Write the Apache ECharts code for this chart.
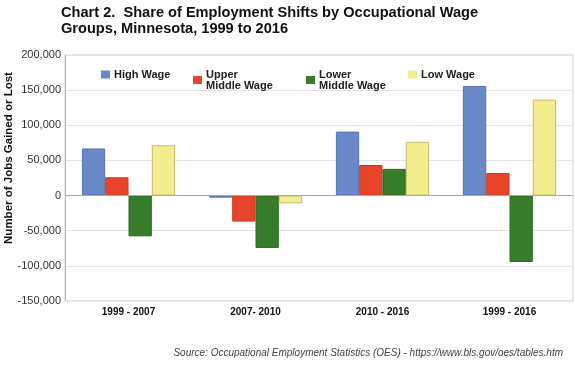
<!DOCTYPE html>
<html><head><meta charset="utf-8">
<script src="https://cdn.jsdelivr.net/npm/echarts@6/dist/echarts.min.js"></script>
<style>html,body{margin:0;padding:0;background:#fff}#c{width:575px;height:372px}</style>
</head><body><div id="c"></div>
<script>
const categories = ['1999 - 2007', '2007- 2010', '2010 - 2016', '1999 - 2016'];
const highWage = [67000, -3000, 91000, 156000];
const upperMiddleWage = [26000, -37000, 43500, 32000];
const lowerMiddleWage = [-58000, -74500, 38000, -94500];
const lowWage = [71500, -11000, 76500, 136500];
const yTicks = { min: -150000, max: 200000, interval: 50000 };

const names = ['High Wage', 'Upper\nMiddle Wage', 'Lower\nMiddle Wage', 'Low Wage'];
const colors = ['#6888c8', '#e8442a', '#367c2b', '#f4ed8c'];
const borders = ['#5774b0', '#c83a22', '#2c6a23', '#c4bc6c'];
const values = [highWage, upperMiddleWage, lowerMiddleWage, lowWage];
const legendLeft = [96, 188, 301, 403];

const chart = echarts.init(document.getElementById('c'));
const font = 'Liberation Sans, Arial, Helvetica, sans-serif';
chart.setOption({
  animation: false,
  textStyle: { fontFamily: font },
  title: {
    text: 'Chart 2.  Share of Employment Shifts by Occupational Wage\nGroups, Minnesota, 1999 to 2016',
    left: 56, top: 0,
    textStyle: { fontSize: 14.6, fontWeight: 'bold', color: '#111', lineHeight: 16, fontFamily: font }
  },
  legend: names.map((n, i) => ({
    data: [n], left: legendLeft[i], top: 64,
    itemWidth: 9, itemHeight: 8, itemGap: 0, icon: 'rect',
    itemStyle: { borderWidth: 0 },
    textStyle: { fontSize: 11, fontWeight: 'bold', color: '#222', lineHeight: 11, padding: [0, 0, 0, -1], fontFamily: font },
    selectedMode: false
  })),
  grid: { left: 65, right: 2, top: 55, bottom: 71, show: true, borderColor: '#cfcfcf', borderWidth: 1,
    containLabel: false, outerBoundsMode: 'none' },
  xAxis: {
    type: 'category', data: categories,
    axisLine: { show: false }, axisTick: { show: false },
    axisLabel: { fontSize: 10, fontWeight: 'bold', color: '#111', margin: 6, fontFamily: font }
  },
  yAxis: {
    type: 'value', min: yTicks.min, max: yTicks.max, interval: yTicks.interval,
    name: 'Number of Jobs Gained or Lost', nameLocation: 'middle', nameGap: 50, nameMoveOverlap: false,
    nameTextStyle: { fontSize: 11.5, fontWeight: 'bold', color: '#111', fontFamily: font, padding: [0, 0, 0, 40] },
    axisLine: { show: true, lineStyle: { color: '#bbb' } }, axisTick: { show: false },
    axisLabel: { fontSize: 11, color: '#333', margin: 4, fontFamily: font,
      formatter: v => v.toLocaleString('en-US') },
    splitLine: { lineStyle: { color: '#e4e4e4' } }
  },
  graphic: [{
    type: 'text', right: 12, top: 348,
    style: { text: 'Source: Occupational Employment Statistics (OES) - https://www.bls.gov/oes/tables.htm',
      fontSize: 10, fontStyle: 'italic', fill: '#444', fontFamily: font }
  }],
  series: names.map((n, i) => ({
    name: n, type: 'bar', data: values[i],
    barGap: '0%', barCategoryGap: '26.6%',
    itemStyle: { color: colors[i], borderColor: borders[i], borderWidth: 1 },
    markLine: i === 0 ? { silent: true, symbol: 'none', label: { show: false },
      lineStyle: { color: '#aaa', type: 'solid', width: 1 }, data: [{ yAxis: 0 }] } : undefined
  }))
});
</script></body></html>
